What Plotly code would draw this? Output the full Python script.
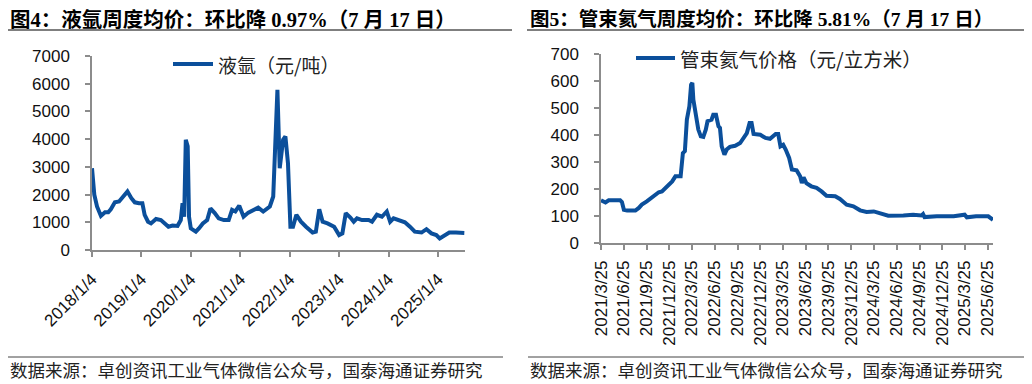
import plotly.graph_objects as go

# ---------------- data: liquid argon weekly average price (yuan/ton) ----------------
argon_dates = [
    "2018-01-04", "2018-01-21", "2018-02-10", "2018-03-11", "2018-04-10", "2018-05-04",
    "2018-05-23", "2018-06-22", "2018-07-23", "2018-08-22", "2018-09-23", "2018-10-22",
    "2018-11-16", "2018-12-17", "2019-01-11", "2019-01-28", "2019-02-22", "2019-03-16",
    "2019-04-22", "2019-05-28", "2019-06-29", "2019-07-23", "2019-08-22", "2019-09-28",
    "2019-10-22", "2019-11-04", "2019-11-16", "2019-11-28", "2019-12-12", "2019-12-22",
    "2020-01-04", "2020-02-10", "2020-03-04", "2020-04-02", "2020-05-04", "2020-05-28",
    "2020-06-29", "2020-07-28", "2020-09-04", "2020-10-10", "2020-11-04", "2020-11-28",
    "2020-12-27", "2021-01-28", "2021-03-04", "2021-04-10", "2021-05-16", "2021-06-22",
    "2021-08-10", "2021-09-04", "2021-09-21", "2021-10-05", "2021-10-22", "2021-11-16",
    "2021-12-03", "2021-12-22", "2022-01-09", "2022-01-28", "2022-02-22", "2022-03-28",
    "2022-05-04", "2022-06-22", "2022-07-16", "2022-08-10", "2022-09-04", "2022-10-10",
    "2022-11-28", "2023-01-04", "2023-01-28", "2023-02-22", "2023-03-28", "2023-04-22",
    "2023-05-16", "2023-06-22", "2023-08-10", "2023-09-04", "2023-10-10", "2023-11-16",
    "2023-12-22", "2024-01-16", "2024-02-10", "2024-03-28", "2024-05-04", "2024-06-10",
    "2024-07-16", "2024-09-04", "2024-10-10", "2024-11-16", "2024-12-22", "2025-01-16",
    "2025-02-22", "2025-03-28", "2025-05-16", "2025-06-22", "2025-07-17",
]
argon_price = [
    2950, 2000, 1570, 1230, 1360, 1360,
    1470, 1720, 1750, 1930, 2110, 1870,
    1720, 1690, 1690, 1270, 1020, 960,
    1120, 1080, 960, 840, 880, 870,
    1080, 1690, 1200, 3980, 3740, 1200,
    780, 660, 780, 960, 1080, 1500,
    1330, 1140, 1080, 1080, 1450, 1390,
    1600, 1200, 1350, 1450, 1530, 1390,
    1570, 1930, 3980, 5780, 2950, 3980,
    4100, 3130, 840, 840, 1270, 1020,
    840, 630, 660, 1470, 1020, 960,
    840, 540, 600, 1330, 1170, 1020,
    1140, 1080, 1080, 1020, 1270, 1200,
    1390, 1020, 1140, 1080, 1000, 840,
    660, 630, 750, 600, 540, 420,
    540, 630, 630, 620, 615,
]
argon_ticks = ["2018-01-04", "2019-01-04", "2020-01-04", "2021-01-04",
               "2022-01-04", "2023-01-04", "2024-01-04", "2025-01-04"]
argon_ticktext = ["2018/1/4", "2019/1/4", "2020/1/4", "2021/1/4",
                  "2022/1/4", "2023/1/4", "2024/1/4", "2025/1/4"]

# ---------------- data: tube-trailer helium price (yuan/m3) ----------------
helium_dates = [
    "2021-03-25", "2021-04-12", "2021-04-25", "2021-06-10", "2021-06-17", "2021-06-25",
    "2021-07-08", "2021-08-10", "2021-08-24", "2021-09-05", "2021-09-25", "2021-10-15",
    "2021-10-28", "2021-11-12", "2021-11-25", "2021-12-08", "2021-12-22", "2022-01-05",
    "2022-01-18", "2022-02-08", "2022-02-17", "2022-02-25", "2022-03-05", "2022-03-15",
    "2022-03-22", "2022-03-27", "2022-03-31", "2022-04-09", "2022-04-20", "2022-04-30",
    "2022-05-10", "2022-05-20", "2022-05-27", "2022-06-12", "2022-06-19", "2022-06-30",
    "2022-07-10", "2022-07-16", "2022-07-23", "2022-08-03", "2022-08-12", "2022-08-25",
    "2022-09-15", "2022-10-05", "2022-10-18", "2022-11-01", "2022-11-12", "2022-11-20",
    "2022-11-28", "2022-12-25", "2023-01-15", "2023-02-02", "2023-02-25", "2023-03-07",
    "2023-03-16", "2023-03-27", "2023-04-06", "2023-04-20", "2023-05-01", "2023-05-20",
    "2023-06-03", "2023-06-10", "2023-06-17", "2023-06-28", "2023-07-18", "2023-08-08",
    "2023-08-28", "2023-09-17", "2023-10-22", "2023-11-10", "2023-12-07", "2024-01-03",
    "2024-01-30", "2024-02-25", "2024-03-25", "2024-04-18", "2024-05-22", "2024-07-22",
    "2024-08-30", "2024-10-03", "2024-10-09", "2024-10-15", "2024-12-03", "2025-02-09",
    "2025-03-25", "2025-04-03", "2025-05-10", "2025-06-28", "2025-07-10", "2025-07-17",
]
helium_price = [
    158, 150, 158, 158, 152, 123,
    120, 120, 130, 142, 154, 167,
    179, 188, 191, 204, 216, 228,
    247, 247, 333, 340, 457, 506,
    586, 593, 531, 481, 420, 395,
    393, 420, 451, 457, 475, 475,
    432, 426, 358, 327, 346, 356,
    360, 370, 385, 407, 444, 444,
    404, 401, 389, 386, 404, 404,
    358, 364, 346, 315, 272, 269,
    247, 222, 243, 222, 210, 204,
    191, 175, 173, 163, 142, 136,
    121, 115, 117, 109, 101, 102,
    105, 102, 107, 96, 99, 99,
    105, 95, 99, 99, 92, 86,
]
helium_ticks = ["2021-03-25", "2021-06-25", "2021-09-25", "2021-12-25", "2022-03-25",
                "2022-06-25", "2022-09-25", "2022-12-25", "2023-03-25", "2023-06-25",
                "2023-09-25", "2023-12-25", "2024-03-25", "2024-06-25", "2024-09-25",
                "2024-12-25", "2025-03-25", "2025-06-25"]
helium_ticktext = ["2021/3/25", "2021/6/25", "2021/9/25", "2021/12/25", "2022/3/25",
                   "2022/6/25", "2022/9/25", "2022/12/25", "2023/3/25", "2023/6/25",
                   "2023/9/25", "2023/12/25", "2024/3/25", "2024/6/25", "2024/9/25",
                   "2024/12/25", "2025/3/25", "2025/6/25"]

title_left = "图4：液氩周度均价：环比降 0.97%（7 月 17 日）"
title_right = "图5：管束氦气周度均价：环比降 5.81%（7 月 17 日）"
legend_left = "液氩（元/吨）"
legend_right = "管束氦气价格（元/立方米）"
source_text = "数据来源：卓创资讯工业气体微信公众号，国泰海通证券研究"

# ---------------- styling ----------------
# the page body has an 8px default margin, so the figure is drawn 8px in from the
# window's top-left corner; positions below are given in window pixels.
OFF = 8
W, H = 1024, 376
LINE = "#0B4F9B"
AXIS = "#8C8C8C"
TICKFONT = dict(family="Liberation Sans, Arial, sans-serif", size=17, color="#111")
CJK = "Noto Sans CJK SC"


def titlefont(size):
    return dict(family="Liberation Serif, " + CJK, size=size, color="#000", weight="bold")


def px(x):
    return (x - OFF) / W


def py(y):
    return 1 - (y - OFF) / H


fig = go.Figure()
fig.add_trace(go.Scatter(x=argon_dates, y=argon_price, mode="lines",
                         line=dict(color=LINE, width=4), xaxis="x", yaxis="y",
                         showlegend=False))
fig.add_trace(go.Scatter(x=helium_dates, y=helium_price, mode="lines",
                         line=dict(color=LINE, width=4), xaxis="x2", yaxis="y2",
                         showlegend=False))

common_axis = dict(showline=True, linecolor=AXIS, linewidth=1.5, ticks="outside",
                   tickcolor=AXIS, ticklen=5, tickwidth=1.5, showgrid=False,
                   zeroline=False, tickfont=TICKFONT, automargin=False)

fig.update_layout(
    width=W, height=H, margin=dict(l=0, r=0, t=0, b=0),
    paper_bgcolor="white", plot_bgcolor="white",
    xaxis=dict(domain=[px(92), px(465)], range=["2018-01-04", "2025-07-22"],
               tickvals=argon_ticks, ticktext=argon_ticktext, tickangle=-45,
               anchor="y", ticklabelstandoff=6, **common_axis),
    yaxis=dict(domain=[py(250), py(56)], range=[0, 7000], dtick=1000,
               anchor="x", ticklabelstandoff=12, **common_axis),
    xaxis2=dict(domain=[px(601), px(993)], range=["2021-03-25", "2025-07-17"],
                tickvals=helium_ticks, ticktext=helium_ticktext, tickangle=-90,
                anchor="y2", ticklabelstandoff=4, **common_axis),
    yaxis2=dict(domain=[py(243), py(54)], range=[0, 700], dtick=100,
                anchor="x2", ticklabelstandoff=12, **common_axis),
)

shapes = [
    # title underlines
    dict(type="line", xref="paper", yref="paper", x0=px(8), x1=px(512), y0=py(30), y1=py(30),
         line=dict(color="#000", width=1.2)),
    dict(type="line", xref="paper", yref="paper", x0=px(527), x1=px(1026), y0=py(30), y1=py(30),
         line=dict(color="#000", width=1.2)),
    # source lines
    dict(type="line", xref="paper", yref="paper", x0=px(8), x1=px(503), y0=py(357), y1=py(357),
         line=dict(color="#444", width=1)),
    dict(type="line", xref="paper", yref="paper", x0=px(528), x1=px(1026), y0=py(357), y1=py(357),
         line=dict(color="#444", width=1)),
    # legend samples
    dict(type="line", xref="paper", yref="paper", x0=px(173), x1=px(213), y0=py(64), y1=py(64),
         line=dict(color=LINE, width=4)),
    dict(type="line", xref="paper", yref="paper", x0=px(636), x1=px(675), y0=py(58), y1=py(58),
         line=dict(color=LINE, width=4)),
]
fig.update_layout(shapes=shapes)

annotations = [
    dict(text=title_left, x=px(8), y=py(19), xref="paper", yref="paper",
         xanchor="left", yanchor="middle", showarrow=False, font=titlefont(20.5)),
    dict(text=title_right, x=px(528), y=py(19), xref="paper", yref="paper",
         xanchor="left", yanchor="middle", showarrow=False, font=titlefont(19.5)),
    dict(text=legend_left, x=px(216), y=py(64), xref="paper", yref="paper",
         xanchor="left", yanchor="middle", showarrow=False,
         font=dict(family=CJK, size=19, color="#222")),
    dict(text=legend_right, x=px(678), y=py(58), xref="paper", yref="paper",
         xanchor="left", yanchor="middle", showarrow=False,
         font=dict(family=CJK, size=19.5, color="#222")),
    dict(text=source_text, x=px(8), y=py(369), xref="paper", yref="paper",
         xanchor="left", yanchor="middle", showarrow=False,
         font=dict(family=CJK, size=17.5, color="#222")),
    dict(text=source_text, x=px(528), y=py(369), xref="paper", yref="paper",
         xanchor="left", yanchor="middle", showarrow=False,
         font=dict(family=CJK, size=17.5, color="#222")),
]
fig.update_layout(annotations=annotations)

fig.write_html("out.html")
